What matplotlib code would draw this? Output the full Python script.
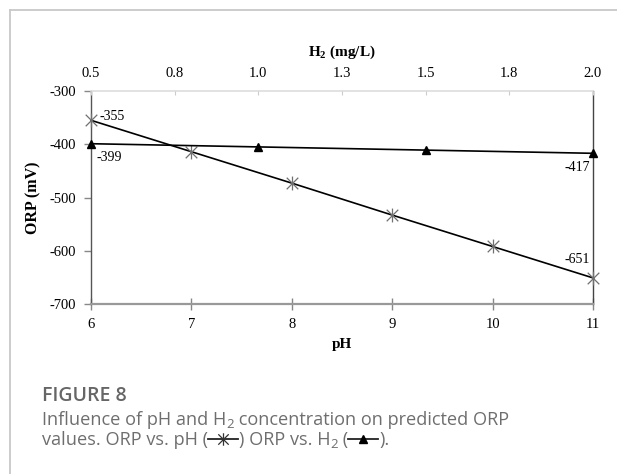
import matplotlib
matplotlib.use("Agg")
import matplotlib.pyplot as plt
from matplotlib.path import Path
from matplotlib.lines import Line2D

# ---- data ----
ph = [6, 7, 8, 9, 10, 11]
orp_ph = [-355, -414, -473, -533, -592, -651]
h2 = [0.5, 1.0, 1.5, 2.0]
orp_h2 = [-399, -405, -411, -417]
y_ticks = [-300, -400, -500, -600, -700]
top_ticks = [0.5, 0.75, 1.0, 1.25, 1.5, 1.75, 2.0]
top_labels = ["0.5", "0.8", "1.0", "1.3", "1.5", "1.8", "2.0"]

plt.rcParams['mathtext.fontset'] = 'custom'
plt.rcParams['mathtext.rm'] = 'Liberation Serif'
plt.rcParams['mathtext.bf'] = 'Liberation Serif:bold'

W, H = 617, 474
fig = plt.figure(figsize=(W / 100, H / 100), dpi=100)
serif = 'Liberation Serif'
tfs = 10.5

# frame lines
fig.add_artist(Line2D([9.5 / W, 9.5 / W], [0, 1 - 9.5 / H], transform=fig.transFigure,
                      color='#c8c8c8', lw=1.3))
fig.add_artist(Line2D([9.5 / W, 1], [1 - 9.5 / H, 1 - 9.5 / H], transform=fig.transFigure,
                      color='#c8c8c8', lw=1.3))

l, r, top, bot = 91, 593, 91, 304
ax = fig.add_axes([l / W, 1 - bot / H, (r - l) / W, (bot - top) / H])
ax.set_xlim(6, 11)
ax.set_ylim(-700, -300)

star = Path([(-1, -1), (1, 1), (-1, 1), (1, -1), (0, -1.2), (0, 1.2)],
            [Path.MOVETO, Path.LINETO, Path.MOVETO, Path.LINETO, Path.MOVETO, Path.LINETO])
ax.plot(ph, orp_ph, color='black', lw=1.2, marker=star, ms=10,
        mec='#707070', mfc='none', mew=0.9, clip_on=False, zorder=3)

ax.set_xticks(ph)
ax.set_xticklabels([str(v) for v in ph], fontfamily=serif, fontsize=tfs)
ax.set_yticks(y_ticks)
ax.set_yticklabels([str(v) for v in y_ticks], fontfamily=serif, fontsize=tfs)
ax.tick_params(axis='x', direction='inout', length=8, width=1, color='#888', pad=6)
ax.tick_params(axis='y', direction='out', length=5, width=1, color='#888', pad=5.5)
ax.set_xlabel('pH', fontfamily=serif, fontweight='bold', fontsize=tfs + 0.5, labelpad=5)
ax.set_ylabel('ORP (mV)', fontfamily=serif, fontweight='bold', fontsize=tfs + 1, labelpad=6)

ax.spines['left'].set_color('#555')
ax.spines['left'].set_linewidth(1.0)
ax.spines['bottom'].set_color('#999')
ax.spines['bottom'].set_linewidth(1.6)
ax.spines['right'].set_color('#444')
ax.spines['right'].set_linewidth(1.0)
ax.spines['top'].set_color('#dddddd')
ax.spines['top'].set_linewidth(1.2)

ax2 = ax.twiny()
ax2.set_xlim(0.5, 2.0)
ax2.plot(h2, orp_h2, color='black', lw=1.2, marker='^', ms=6, clip_on=False, zorder=3)
ax2.set_xticks(top_ticks)
ax2.set_xticklabels(top_labels, fontfamily=serif, fontsize=tfs)
ax2.tick_params(axis='x', direction='in', length=3, width=0.8, color='#cccccc', pad=8)
ax2.set_xlabel(r'$\mathbf{H_2}$' + ' (mg/L)', fontfamily=serif, fontweight='bold',
               fontsize=tfs + 0.5, labelpad=8)
for s in ax2.spines.values():
    s.set_visible(False)

# value annotations
af = dict(fontfamily=serif, fontsize=tfs - 0.5, color='black')
ax.annotate('-355', (ph[0], orp_ph[0]), xytext=(6, 3), textcoords='offset points',
            ha='left', va='center', **af)
ax.annotate('-651', (ph[-1], orp_ph[-1]), xytext=(-2, 13), textcoords='offset points',
            ha='right', va='center', **af)
ax2.annotate('-399', (h2[0], orp_h2[0]), xytext=(4, -10), textcoords='offset points',
             ha='left', va='center', **af)
ax2.annotate('-417', (h2[-1], orp_h2[-1]), xytext=(-2, -10), textcoords='offset points',
             ha='right', va='center', **af)

# ---- caption ----
cap_col = '#6e6e6e'
sans = 'Open Sans'
x0 = 42
fig.text(x0 / W, 1 - 401 / H, 'FIGURE 8', fontfamily=sans, fontweight='semibold',
         fontsize=14, color='#666666', va='baseline', ha='left')

renderer = fig.canvas.get_renderer()
cfs = 13.1


def place(pieces, x0, ybase):
    x = x0
    for kind, txt in pieces:
        if kind in ('t', 's'):
            fs = cfs if kind == 't' else cfs * 0.72
            yb = ybase if kind == 't' else ybase + 3.5
            t = fig.text(x / W, 1 - yb / H, txt, fontfamily=sans, fontsize=fs,
                         color=cap_col, va='baseline', ha='left')
            bb = t.get_window_extent(renderer)
            x += bb.width
        else:
            wline = 30
            ym = ybase - 6
            fig.add_artist(Line2D([x / W, (x + wline) / W], [1 - ym / H, 1 - ym / H],
                                  transform=fig.transFigure, color='#222', lw=1.3))
            if kind == 'star':
                fig.add_artist(Line2D([(x + wline / 2) / W], [1 - ym / H],
                                      transform=fig.transFigure, marker=star, ms=9,
                                      mec='#333', mfc='none', mew=0.9))
            else:
                fig.add_artist(Line2D([(x + wline / 2) / W], [1 - ym / H],
                                      transform=fig.transFigure, marker='^', ms=6,
                                      color='black'))
            x += wline + 1


place([('t', 'Influence of pH and H'), ('s', '2'),
       ('t', ' concentration on predicted ORP')], x0, 425)
place([('t', 'values. ORP vs. pH ('), ('star', ''), ('t', ') ORP vs. H'), ('s', '2'),
       ('t', ' ('), ('tri', ''), ('t', ').')], x0, 445)

fig.savefig('out.png', dpi=100)
